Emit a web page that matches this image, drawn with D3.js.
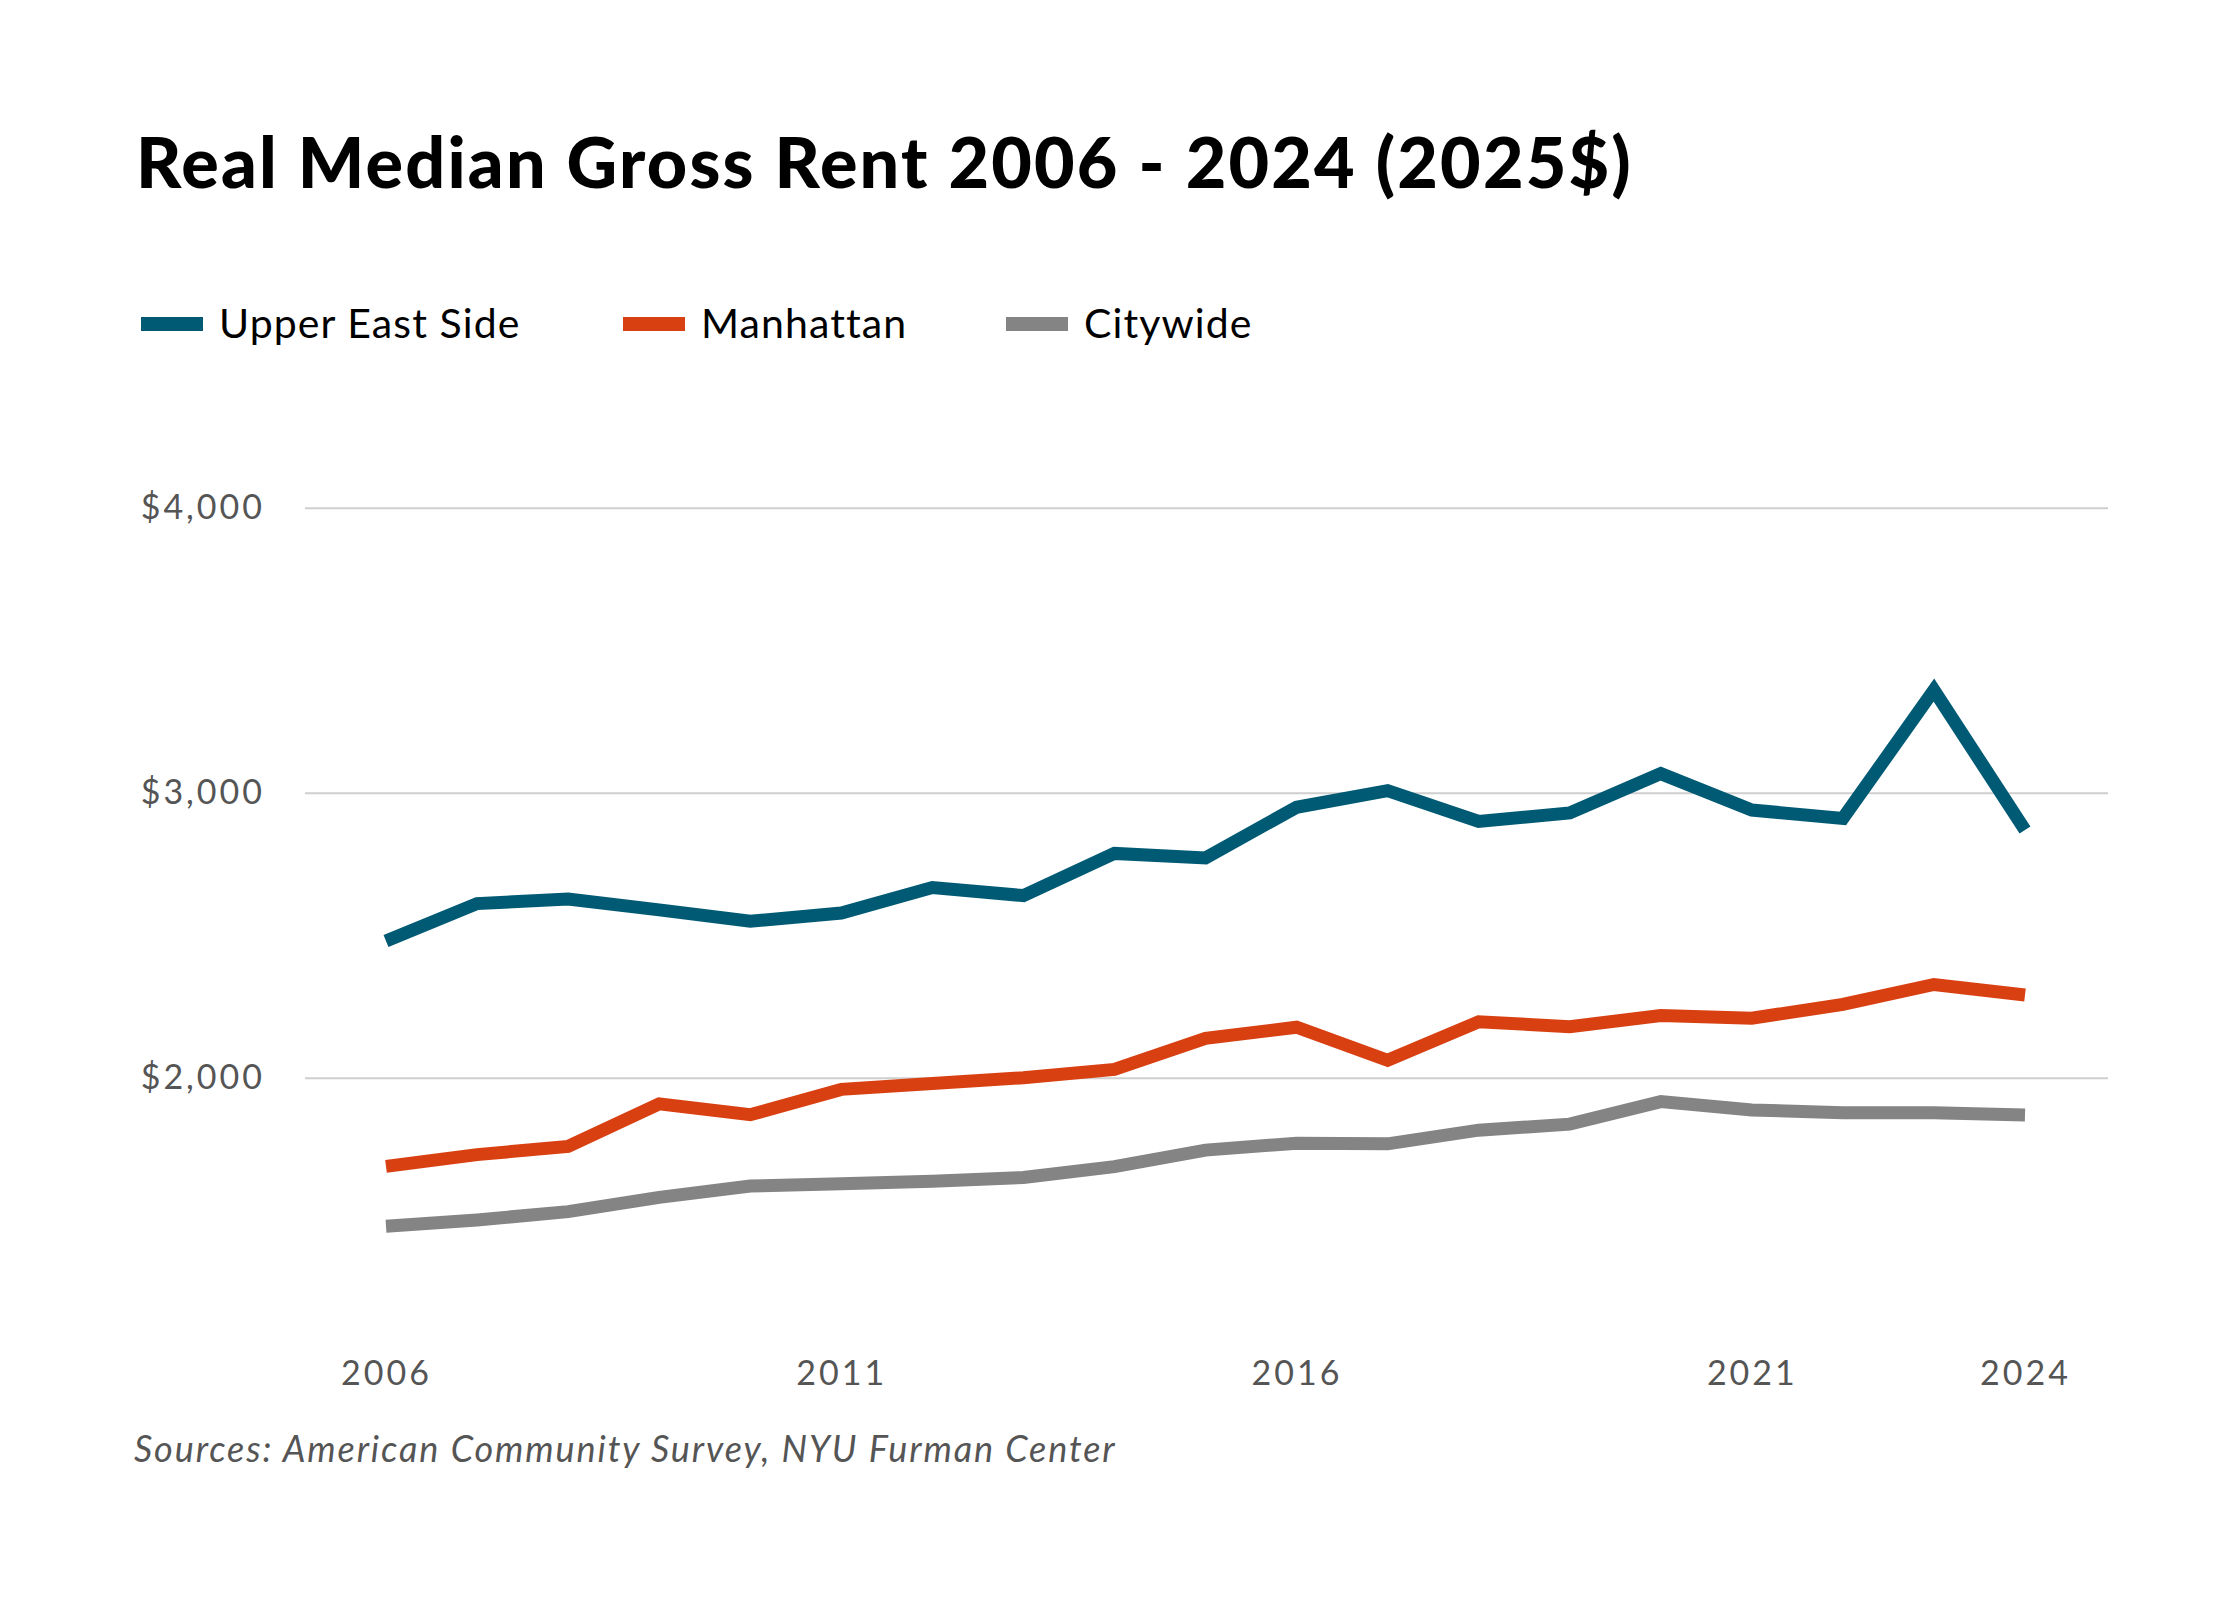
<!DOCTYPE html>
<html>
<head>
<meta charset="utf-8">
<script src="https://cdn.jsdelivr.net/npm/d3@7"></script>
<style>
  body { margin: 0; background: #fff; }
  .grid line { stroke: #cfcfcf; stroke-width: 2; }
  .grid .domain { display: none; }
  .y-axis text, .x-axis text { fill: #555; font-family: Lato, sans-serif; font-size: 34px; letter-spacing: 3px; }
  .series { fill: none; stroke-width: 13; stroke-linejoin: miter; }
</style>
</head>
<body>
<div class="visualization"></div>
<script>
const years = [2006, 2007, 2008, 2009, 2010, 2011, 2012, 2013, 2014, 2015,
  2016, 2017, 2018, 2019, 2020, 2021, 2022, 2023, 2024];
const upperEastSide = [2480, 2611, 2627, 2589, 2549, 2578, 2667, 2639, 2787, 2771,
  2949, 3007, 2899, 2929, 3067, 2939, 2910, 3360, 2869];
const manhattan = [1689, 1730, 1759, 1908, 1870, 1959, 1980, 2000, 2029, 2138,
  2177, 2061, 2196, 2179, 2218, 2209, 2257, 2327, 2290];
const citywide = [1479, 1501, 1530, 1580, 1620, 1628, 1637, 1650, 1688, 1746,
  1770, 1768, 1816, 1837, 1916, 1887, 1877, 1877, 1869];
const seriesNames = ["Upper East Side", "Manhattan", "Citywide"];
const seriesColors = ["#005a74", "#d84012", "#848484"];
const yTicks = [2000, 3000, 4000];
const xTicks = [2006, 2011, 2016, 2021, 2024];

const width = 2240, height = 1600;
const margin = { left: 305, right: 132 };

const svg = d3.select(".visualization")
  .append("svg")
  .attr("width", width)
  .attr("height", height)
  .attr("viewBox", `0 0 ${width} ${height}`);

svg.append("rect").attr("width", width).attr("height", height).attr("fill", "#fff");

const xScale = d3.scaleLinear()
  .domain([2006, 2024])
  .range([386, 2025]);

const yScale = d3.scaleLinear()
  .domain([1200, 4000])
  .range([1305.7, 507.7]);

// gridlines
svg.append("g")
  .attr("class", "grid")
  .attr("transform", `translate(${margin.left}, 0)`)
  .call(d3.axisRight(yScale).tickValues(yTicks).tickSize(width - margin.left - margin.right).tickFormat(""));

// y labels
const yAxis = svg.append("g")
  .attr("class", "y-axis")
  .attr("transform", "translate(265, 0)")
  .call(d3.axisLeft(yScale).tickValues(yTicks).tickSize(0).tickFormat(d3.format("$,")));
yAxis.select(".domain").remove();
yAxis.selectAll("text").attr("x", 0).attr("dy", "0.32em");

// x labels
const xAxis = svg.append("g")
  .attr("class", "x-axis")
  .attr("transform", "translate(0, 1385)")
  .call(d3.axisBottom(xScale).tickValues(xTicks).tickSize(0).tickFormat(d3.format("d")));
xAxis.select(".domain").remove();
xAxis.selectAll("text").attr("y", 0).attr("dy", 0);

// lines
const allSeries = [upperEastSide, manhattan, citywide];
const line = d3.line()
  .x((d, i) => xScale(years[i]))
  .y(d => yScale(d));

svg.append("g")
  .selectAll(".series")
  .data(allSeries.slice().reverse())
  .enter().append("path")
  .attr("class", "series")
  .attr("stroke", (d, i) => seriesColors[seriesColors.length - 1 - i])
  .attr("d", line);

// title
svg.append("text")
  .attr("x", 136)
  .attr("y", 188)
  .attr("font-family", "Lato, sans-serif")
  .attr("font-weight", 900)
  .attr("font-size", 70)
  .attr("letter-spacing", 2.2)
  .attr("fill", "#000")
  .text("Real Median Gross Rent 2006 - 2024 (2025$)");

// legend
const legendX = [141, 623, 1006];
const legend = svg.append("g")
  .selectAll("g")
  .data(seriesNames)
  .enter().append("g")
  .attr("transform", (d, i) => `translate(${legendX[i]}, 324)`);
legend.append("rect")
  .attr("x", 0).attr("y", -7)
  .attr("width", 62).attr("height", 14)
  .attr("fill", (d, i) => seriesColors[i]);
legend.append("text")
  .attr("x", 78)
  .attr("y", 14)
  .attr("font-family", "Lato, sans-serif")
  .attr("font-size", 41)
  .attr("letter-spacing", 1.1)
  .attr("fill", "#000")
  .text(d => d);

// source note
svg.append("text")
  .attr("x", 134)
  .attr("y", 1462)
  .attr("font-family", "Lato, sans-serif")
  .attr("font-style", "italic")
  .attr("font-size", 36)
  .attr("letter-spacing", 1.9)
  .attr("fill", "#555")
  .text("Sources: American Community Survey, NYU Furman Center");
</script>
</body>
</html>
